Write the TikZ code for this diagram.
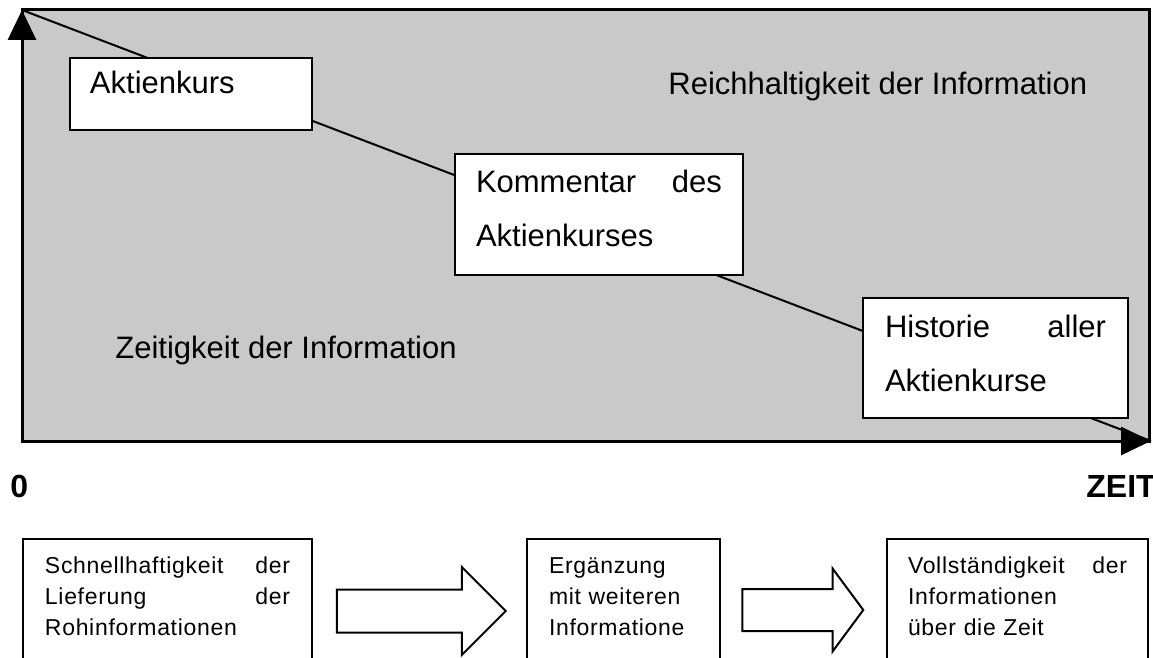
\documentclass[tikz,border=0pt]{standalone}
\usepackage{fontspec}
\setmainfont{Liberation Sans}
\newfontfamily\boxfont[LetterSpace=3]{Liberation Sans}
\usetikzlibrary{arrows.meta,positioning,shapes.arrows}
\definecolor{panelgrey}{RGB}{201,201,201}
\definecolor{inkblack}{RGB}{0,0,0}
\tikzset{
  axis/.style={line width=1.5pt,draw=inkblack,-{Triangle[length=15pt,width=14pt]}},
  panel/.style={fill=panelgrey,draw=inkblack,line width=1.5pt},
  trend/.style={draw=inkblack,line width=1pt},
  infobox/.style={draw=inkblack,line width=1pt,fill=white,anchor=north west,
    outer sep=0pt,inner ysep=0pt,align=left,
    font=\fontsize{15.5}{27}\selectfont},
  stagebox/.style={draw=inkblack,line width=1pt,fill=white,anchor=north west,
    outer sep=0pt,inner xsep=11pt,inner ysep=0pt,align=left,
    text height=17pt,text depth=48.5pt,
    font=\boxfont\fontsize{11.5}{15.5}\selectfont},
  bigarrow/.style={single arrow,draw=inkblack,line width=1pt,fill=white,
    inner xsep=0pt,single arrow head indent=0pt},
  axislabel/.style={font=\bfseries\fontsize{16}{16}\selectfont,
    anchor=base west,inner sep=0pt},
  arealabel/.style={font=\fontsize{15.5}{18}\selectfont,
    anchor=base west,inner sep=0pt}
}

\begin{document}
\begin{tikzpicture}[x=0.5pt,y=-0.5pt]
  \useasboundingbox (0,0) rectangle (1153,658);
  \clip (0,0) rectangle (1153,658);
  \coordinate (orig) at (22,441);
  \coordinate (ytip) at (22,10);
  \coordinate (xtip) at (1151,441);
  \path[panel] (ytip) rectangle (1149,441);
  \draw[trend] (ytip) -- (xtip);
  \draw[axis] (orig) -- (ytip);
  \draw[axis] (orig) -- (xtip);

  \node[infobox,inner xsep=10pt,text width=101pt,
    text height=18pt,text depth=18pt] (kurs) at (70,58) {Aktienkurs};
  \node[infobox,inner xsep=10.5pt,text width=123pt,
    text height=19.5pt,text depth=41pt] (komm) at (455,154)
    {Kommentar\hfill des\\Aktienkurses};
  \node[infobox,inner xsep=11pt,text width=110.5pt,
    text height=19.5pt,text depth=40.5pt] (hist) at (863,298)
    {Historie\hfill aller\\Aktienkurse};
  \node[arealabel] (reich) at (668,95) {Reichhaltigkeit der Information};
  \node[arealabel] (zeitig) at (115,358) {Zeitigkeit der Information};
  \node[axislabel] (null) at (10,497) {0};
  \node[axislabel] (zeit) at (1086,497) {ZEIT};

  \node[stagebox,text width=122.5pt] (liefer) at (23,539)
    {Schnellhaftigkeit\hfill der\\Lieferung\hfill der\\Rohinformationen};
  \node[stagebox,text width=74.5pt] (ergaenz) at (527,539)
    {Ergänzung\\mit weiteren\\Informatione};
  \node[stagebox,inner xsep=10.5pt,text width=109.5pt] (voll) at (887,539)
    {Vollständigkeit\hfill der\\Informationen\\über die Zeit};
  \node[bigarrow,minimum height=84.5pt,minimum width=43pt,inner ysep=10.25pt,
    single arrow head extend=11.25pt,single arrow tip angle=90] (pfeilA) at (410.5,611) {};
  \node[bigarrow,minimum height=60.5pt,minimum width=40.5pt,inner ysep=10pt,
    single arrow head extend=10.25pt,single arrow tip angle=107] (pfeilB) at (795,610) {};
\end{tikzpicture}
\end{document}
